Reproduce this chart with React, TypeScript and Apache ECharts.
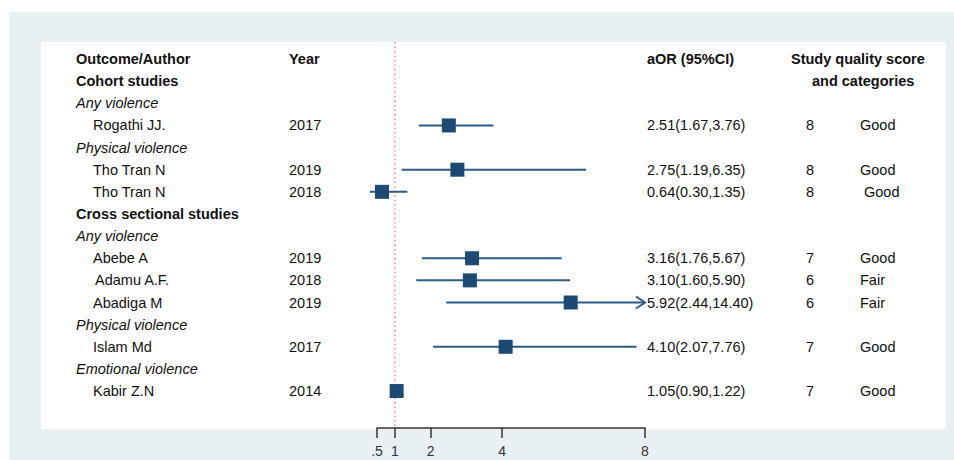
import React, { useEffect, useRef } from "react";
import * as echarts from "echarts";

// ---- data ----
const authors = ["Rogathi JJ.", "Tho Tran N", "Tho Tran N", "Abebe A", "Adamu A.F.", "Abadiga M", "Islam Md", "Kabir Z.N"];
const years = ["2017", "2019", "2018", "2019", "2018", "2019", "2017", "2014"];
const aor = [2.51, 2.75, 0.64, 3.16, 3.1, 5.92, 4.1, 1.05];
const lower = [1.67, 1.19, 0.3, 1.76, 1.6, 2.44, 2.07, 0.9];
const upper = [3.76, 6.35, 1.35, 5.67, 5.9, 14.4, 7.76, 1.22];
const ciText = ["2.51(1.67,3.76)", "2.75(1.19,6.35)", "0.64(0.30,1.35)", "3.16(1.76,5.67)", "3.10(1.60,5.90)", "5.92(2.44,14.40)", "4.10(2.07,7.76)", "1.05(0.90,1.22)"];
const scores = ["8", "8", "8", "7", "6", "6", "7", "7"];
const qualities = ["Good", "Good", " Good", "Good", "Fair", "Fair", "Good", "Good"];
const studyRows = [3, 5, 6, 9, 10, 11, 13, 15];

const groupTexts = ["Cohort studies", "Any violence", "Physical violence", "Cross sectional studies", "Any violence", "Physical violence", "Emotional violence"];
const groupRows = [1, 2, 4, 7, 8, 12, 14];
const groupKinds = ["bold", "italic", "italic", "bold", "italic", "italic", "italic"];

const headerTexts = ["Outcome/Author", "Year", "aOR (95%CI)", "Study quality score", "and categories"];
const headerRows = [0, 0, 0, 0, 1];
const headerCols = ["label", "year", "ci", "quality", "quality2"];

const tickValues = [0.5, 1, 2, 4, 8];
const tickLabels = [".5", "1", "2", "4", "8"];
const nullValue = 1;

// ---- layout ----
const axisMin = 0.5;
const axisMax = 8;
const yMin = -0.77;
const yMax = 16.67;
const colX: Record<string, number> = {
  label: 76,
  author: 93,
  year: 289,
  ci: 647,
  score: 806,
  quality: 791,
  quality2: 812,
  cat: 860,
};
const FONT = "Liberation Sans, Arial, Helvetica, sans-serif";
const FS = 14.5;
const NAVY = "#1d4a74";
const LINE = "#2d5a87";

type TextItem = { row: number; x: number; text: string; kind: string };

const textItems: TextItem[] = [];
headerTexts.forEach((t, i) => textItems.push({ row: headerRows[i], x: colX[headerCols[i]], text: t, kind: "bold" }));
groupTexts.forEach((t, i) => textItems.push({ row: groupRows[i], x: colX.label, text: t, kind: groupKinds[i] }));
authors.forEach((a, i) => {
  const r = studyRows[i];
  textItems.push({ row: r, x: colX.author + (a.startsWith("Adamu") ? 2 : 0), text: a, kind: "normal" });
  textItems.push({ row: r, x: colX.year, text: years[i], kind: "normal" });
  textItems.push({ row: r, x: colX.ci, text: ciText[i], kind: "normal" });
  textItems.push({ row: r, x: colX.score, text: scores[i], kind: "normal" });
  textItems.push({ row: r, x: colX.cat, text: qualities[i], kind: "normal" });
});

export default function App() {
  const ref = useRef<HTMLDivElement>(null);
  useEffect(() => {
    if (!ref.current) return;
    const chart = echarts.init(ref.current, null, { renderer: "svg" });
    const option: any = {
      animation: false,
      backgroundColor: "#ffffff",
      graphic: [
        { type: "rect", z: -10, shape: { x: 9, y: 12, width: 945, height: 448 }, style: { fill: "#e9f0f3" }, silent: true },
        { type: "rect", z: -9, shape: { x: 41, y: 42, width: 905, height: 387 }, style: { fill: "#ffffff" }, silent: true },
      ],
      grid: { left: 377, width: 268, top: 42, height: 386 },
      xAxis: {
        type: "value",
        min: axisMin,
        max: axisMax,
        position: "bottom",
        splitLine: { show: false },
        axisLine: { show: true, onZero: false, lineStyle: { color: "#333", width: 1.5 } },
        axisTick: { show: true, customValues: tickValues, length: 10, lineStyle: { color: "#333", width: 1.5 } },
        axisLabel: {
          show: true,
          customValues: tickValues,
          formatter: (v: number) => tickLabels[tickValues.indexOf(v)] ?? String(v),
          margin: 16,
          fontSize: 14,
          color: "#333",
          fontFamily: FONT,
        },
      },
      yAxis: { type: "value", inverse: true, min: yMin, max: yMax, show: false },
      series: [
        {
          type: "line",
          data: [[nullValue, yMin], [nullValue, yMax]],
          symbol: "none",
          lineStyle: { color: "#f08a8a", width: 1.5, type: [1.5, 3] },
          silent: true,
          z: 1,
        },
        {
          type: "custom",
          clip: false,
          z: 3,
          data: authors.map((_, i) => [aor[i], lower[i], upper[i], studyRows[i]]),
          encode: { x: [0, 1, 2], y: 3 },
          renderItem: (params: any, api: any) => {
            const row = api.value(3);
            const est = api.value(0);
            const lo = api.value(1);
            const hi = api.value(2);
            const capped = hi > axisMax;
            const p0 = api.coord([lo, row]);
            const p1 = api.coord([Math.min(hi, axisMax), row]);
            const pc = api.coord([est, row]);
            const children: any[] = [
              { type: "line", shape: { x1: p0[0], y1: p0[1], x2: p1[0], y2: p1[1] }, style: { stroke: LINE, lineWidth: 2 } },
            ];
            if (capped) {
              children.push({
                type: "polyline",
                shape: { points: [[p1[0] - 9, p1[1] - 6], [p1[0], p1[1]], [p1[0] - 9, p1[1] + 6]] },
                style: { stroke: LINE, lineWidth: 2, fill: "none" },
              });
            }
            children.push({ type: "rect", shape: { x: pc[0] - 7, y: pc[1] - 7, width: 14, height: 14 }, style: { fill: NAVY } });
            return { type: "group", children };
          },
        },
        {
          type: "custom",
          clip: false,
          z: 4,
          silent: true,
          data: textItems.map((t) => [axisMin, t.row]),
          encode: { x: 0, y: 1 },
          renderItem: (params: any, api: any) => {
            const t = textItems[params.dataIndex];
            const y = api.coord([axisMin, api.value(1)])[1];
            return {
              type: "text",
              x: t.x,
              y,
              style: {
                text: t.text,
                fill: "#111111",
                fontSize: FS,
                fontFamily: FONT,
                fontWeight: t.kind === "bold" ? "bold" : "normal",
                fontStyle: t.kind === "italic" ? "italic" : "normal",
                align: "left",
                verticalAlign: "middle",
                textAlign: "left",
                textVerticalAlign: "middle",
              },
            };
          },
        },
      ],
    };
    chart.setOption(option);
    return () => chart.dispose();
  }, []);
  return <div ref={ref} style={{ position: "fixed", left: 0, top: 0, width: 954, height: 460 }} />;
}
